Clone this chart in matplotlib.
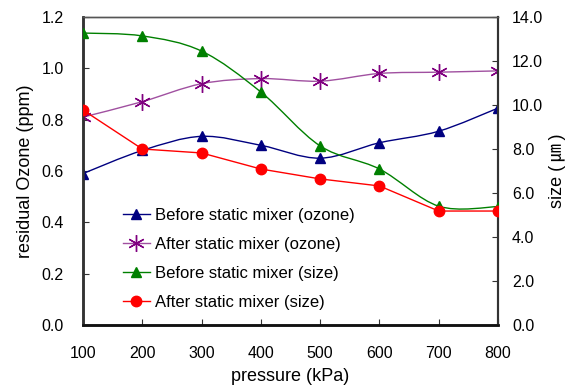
import numpy as np
import matplotlib
matplotlib.use("Agg")
import matplotlib.pyplot as plt
from matplotlib.path import Path
from matplotlib.patches import PathPatch
from matplotlib.lines import Line2D

plt.rcParams['font.family'] = ['Liberation Sans', 'Noto Sans CJK JP', 'DejaVu Sans']

pressure = [100, 200, 300, 400, 500, 600, 700, 800]
ozone_before = [0.59, 0.68, 0.735, 0.70, 0.65, 0.71, 0.755, 0.845]
ozone_after = [0.81, 0.87, 0.94, 0.96, 0.95, 0.98, 0.985, 0.99]
size_before = [13.27, 13.14, 12.45, 10.59, 8.14, 7.09, 5.40, 5.38]
size_after = [9.77, 8.0, 7.82, 7.09, 6.64, 6.32, 5.18, 5.18]

labels = ['Before static mixer (ozone)', 'After static mixer (ozone)',
          'Before static mixer (size)', 'After static mixer (size)']


def smooth_path(x, y):
    # excel-like smoothed line: cubic bezier through every point
    p = np.column_stack([x, y]).astype(float)
    pts = np.vstack([p[0], p, p[-1]])
    verts = [p[0]]
    codes = [Path.MOVETO]
    for i in range(1, len(pts) - 2):
        p0, p1, p2, p3 = pts[i - 1], pts[i], pts[i + 1], pts[i + 2]
        c1 = p1 + (p2 - p0) / 6.0
        c2 = p2 - (p3 - p1) / 6.0
        verts += [c1, c2, p2]
        codes += [Path.CURVE4] * 3
    return Path(verts, codes)


fig = plt.figure(figsize=(5.66, 3.87), dpi=100)
ax = fig.add_axes([0.1466, 0.1602, 0.7333, 0.7959])
ax2 = ax.twinx()

blue = '#000080'
purple = '#800080'
green = '#008000'
red = '#FF0000'

ax.add_patch(PathPatch(smooth_path(pressure, ozone_before), fill=False,
                       edgecolor=blue, lw=1.0, zorder=3))
ax.plot(pressure, ozone_before, ls='none', marker='^', ms=7.5, color=blue, zorder=4)
ax.add_patch(PathPatch(smooth_path(pressure, ozone_after), fill=False,
                       edgecolor='#A050A0', lw=1.0, zorder=3))
ax.plot(pressure, ozone_after, ls='none', marker=(6, 2, 0), ms=12, mew=1.0,
        color=purple, zorder=4)

ax2.add_patch(PathPatch(smooth_path(pressure, size_before), fill=False,
                        edgecolor=green, lw=1.0, zorder=3))
ax2.plot(pressure, size_before, ls='none', marker='^', ms=7.5, color=green, zorder=4)
ax2.plot(pressure, size_after, '-', marker='o', ms=7.5, lw=1.0, color=red, zorder=4)

ax.set_xlim(100, 800)
ax.set_ylim(0, 1.2)
ax2.set_ylim(0, 14)
ax.set_xticks(pressure)
ax.set_yticks(np.arange(0, 1.21, 0.2))
ax.set_yticklabels(['%.1f' % v for v in np.arange(0, 1.21, 0.2)])
ax2.set_yticks(np.arange(0, 14.1, 2))
ax2.set_yticklabels(['%.1f' % v for v in np.arange(0, 14.1, 2)])

ax.tick_params(axis='x', direction='in', length=4, pad=15, labelsize=11.5, colors='#333333', labelcolor='black')
ax.tick_params(axis='y', direction='in', length=4, pad=14, labelsize=11.5, colors='#333333', labelcolor='black')
ax2.tick_params(axis='y', direction='in', length=4, pad=10, labelsize=11.5, colors='#333333', labelcolor='black')

for a in (ax, ax2):
    a.spines['top'].set_color('#555555')
    a.spines['top'].set_linewidth(1.0)
    a.spines['left'].set_color('#333333')
    a.spines['left'].set_linewidth(1.8)
    a.spines['bottom'].set_color('#111111')
    a.spines['bottom'].set_linewidth(1.8)
    a.spines['right'].set_color('#333333')
    a.spines['right'].set_linewidth(1.5)

ax.set_xlabel('pressure (kPa)', fontsize=13, labelpad=5)
ax.set_ylabel('residual Ozone (ppm)', fontsize=13, labelpad=5)
ax2.set_ylabel('size (\u2009㎛\u2009)', fontsize=13, labelpad=4)

handles = [
    Line2D([], [], color=blue, marker='^', ms=7.5, lw=1.0),
    Line2D([], [], color='#A050A0', marker=(6, 2, 0), ms=12, mec=purple, lw=1.0),
    Line2D([], [], color=green, marker='^', ms=7.5, lw=1.0),
    Line2D([], [], color=red, marker='o', ms=7.5, lw=1.0),
]
ax2.legend(handles, labels, loc='upper left', bbox_to_anchor=(0.076, 0.407),
           frameon=False, fontsize=12, handlelength=1.6, handletextpad=0.3,
           labelspacing=0.84, borderpad=0)

fig.savefig('out.png', dpi=100)
